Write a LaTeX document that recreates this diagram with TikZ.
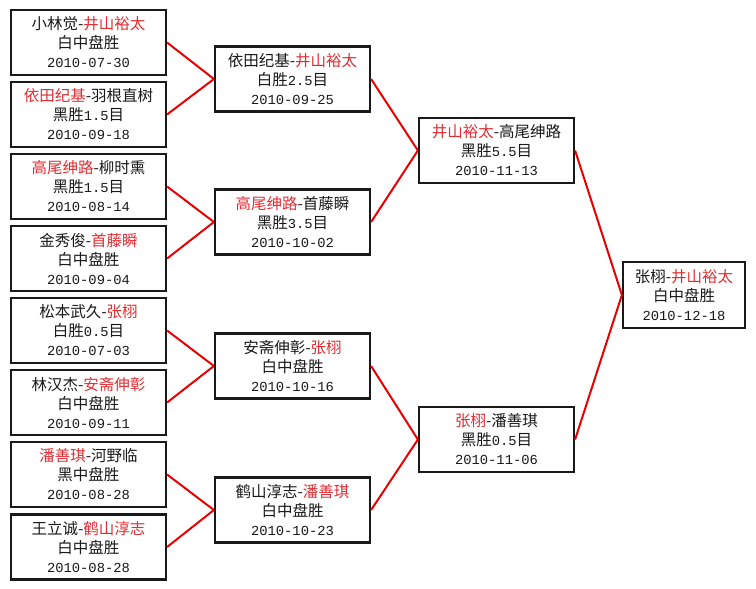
\documentclass[tikz,border=0pt]{standalone}
\usepackage{fontspec}
\newfontfamily\cjk{Noto Sans CJK SC}
\newfontfamily\digitsfont{Liberation Mono}
\definecolor{winred}{RGB}{225,45,50}
\definecolor{linered}{RGB}{235,0,0}
\definecolor{txt}{RGB}{25,25,25}
\newcommand\rd[1]{\textcolor{winred}{#1}}
\newcommand\mn[1]{{\digitsfont\fontsize{13.8}{19}\selectfont #1}}
\tikzset{
  game/.style={draw=black!90, line width=2.2pt, fill=white, minimum width=155pt,
    minimum height=65pt, inner sep=0pt, align=center, text=txt,
    font={\cjk\fontsize{15.5}{19}\selectfont}},
  finalgame/.style={game, minimum width=122pt, minimum height=66pt},
  link/.style={draw=linered, line width=2pt}
}
\begin{document}
\begin{tikzpicture}[x=1pt,y=-1pt]
\useasboundingbox[fill=white] (0,0) rectangle (756,589);
% first round
\node[game] (a1) at (88.5,42.5) {小林觉-\rd{井山裕太}\\白中盘胜\\\mn{2010-07-30}};
\node[game] (a2) at (88.5,114.5) {\rd{依田纪基}-羽根直树\\黑胜\mn{1.5}目\\\mn{2010-09-18}};
\node[game] (a3) at (88.5,186.5) {\rd{高尾绅路}-柳时熏\\黑胜\mn{1.5}目\\\mn{2010-08-14}};
\node[game] (a4) at (88.5,258.5) {金秀俊-\rd{首藤瞬}\\白中盘胜\\\mn{2010-09-04}};
\node[game] (a5) at (88.5,330.5) {松本武久-\rd{张栩}\\白胜\mn{0.5}目\\\mn{2010-07-03}};
\node[game] (a6) at (88.5,402.5) {林汉杰-\rd{安斋伸彰}\\白中盘胜\\\mn{2010-09-11}};
\node[game] (a7) at (88.5,474.5) {\rd{潘善琪}-河野临\\黑中盘胜\\\mn{2010-08-28}};
\node[game] (a8) at (88.5,547) {王立诚-\rd{鹤山淳志}\\白中盘胜\\\mn{2010-08-28}};
% second round
\node[game] (b1) at (292.5,79) {依田纪基-\rd{井山裕太}\\白胜\mn{2.5}目\\\mn{2010-09-25}};
\node[game] (b2) at (292.5,222) {\rd{高尾绅路}-首藤瞬\\黑胜\mn{3.5}目\\\mn{2010-10-02}};
\node[game] (b3) at (292.5,366) {安斋伸彰-\rd{张栩}\\白中盘胜\\\mn{2010-10-16}};
\node[game] (b4) at (292.5,510) {鹤山淳志-\rd{潘善琪}\\白中盘胜\\\mn{2010-10-23}};
% semifinals
\node[game] (c1) at (496.5,150.5) {\rd{井山裕太}-高尾绅路\\黑胜\mn{5.5}目\\\mn{2010-11-13}};
\node[game] (c2) at (496.5,439.5) {\rd{张栩}-潘善琪\\黑胜\mn{0.5}目\\\mn{2010-11-06}};
% final
\node[finalgame] (d) at (684,295) {张栩-\rd{井山裕太}\\白中盘胜\\\mn{2010-12-18}};
% connectors
\draw[link] (a1.east) -- (b1.west);
\draw[link] (a2.east) -- (b1.west);
\draw[link] (a3.east) -- (b2.west);
\draw[link] (a4.east) -- (b2.west);
\draw[link] (a5.east) -- (b3.west);
\draw[link] (a6.east) -- (b3.west);
\draw[link] (a7.east) -- (b4.west);
\draw[link] (a8.east) -- (b4.west);
\draw[link] (b1.east) -- (c1.west);
\draw[link] (b2.east) -- (c1.west);
\draw[link] (b3.east) -- (c2.west);
\draw[link] (b4.east) -- (c2.west);
\draw[link] (c1.east) -- (d.west);
\draw[link] (c2.east) -- (d.west);
\end{tikzpicture}
\end{document}
